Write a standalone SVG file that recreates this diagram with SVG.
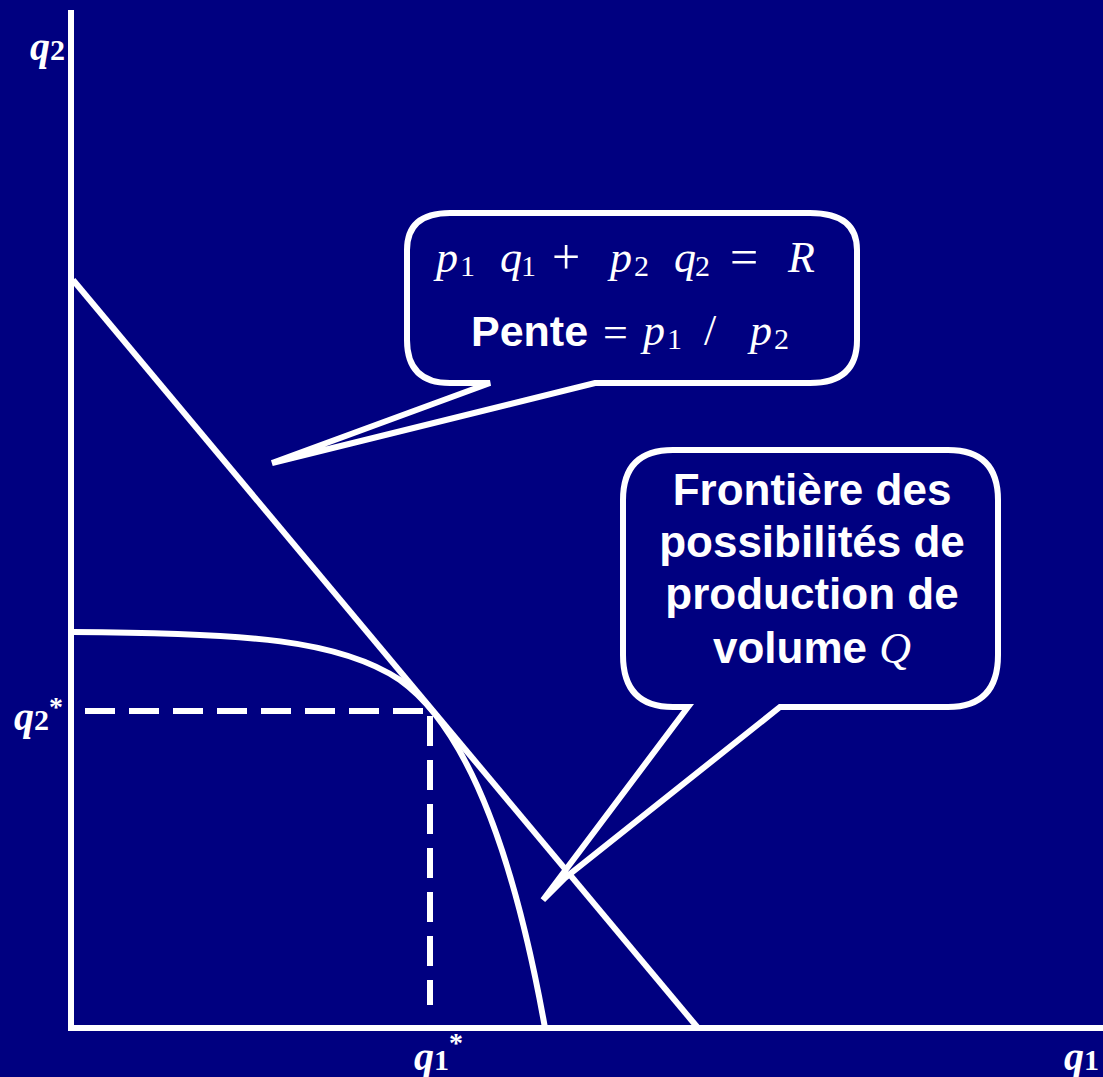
<svg xmlns="http://www.w3.org/2000/svg" width="1103" height="1077" viewBox="0 0 1103 1077">
<style>
.ln{fill:none;stroke:#fff;stroke-width:6}
.bub{fill:#000080;stroke:#fff;stroke-width:6;stroke-linejoin:miter}
.m{font-family:"Liberation Serif","DejaVu Serif",serif;font-style:italic;fill:#fff}
.r{font-family:"Liberation Serif","DejaVu Serif",serif;font-style:normal;fill:#fff}
.b{font-family:"Liberation Sans",Arial,sans-serif;font-weight:bold;fill:#fff}
</style>
<rect width="1103" height="1077" fill="#000080"/>
<g id="connectors">
<path class="ln" d="M71,10 V1028 H1103"/>
<path class="ln" d="M73,280 L698,1028"/>
<path class="ln" d="M73,632 C250,633 340,640 400,680 C470,730 515,860 545,1028"/>
<path class="ln" stroke-dasharray="30,14" d="M85,711 H430"/>
<path class="ln" stroke-dasharray="30,14" d="M430,716 V1005"/>
</g>
<g id="callout1">
<path class="bub" d="M490,383 L272,463 L595,383 H810 Q857,383 857,340 V250 Q857,213 810,213 H450 Q407,213 407,250 V340 Q407,383 450,383 Z"/>
<g font-size="44">
<text class="m" x="436" y="272">p</text><text class="r" x="460" y="276" font-size="30">1</text>
<text class="m" x="500" y="272">q</text><text class="r" x="521" y="276" font-size="30">1</text>
<text class="r" x="552" y="274" font-size="50">+</text>
<text class="m" x="610" y="272">p</text><text class="r" x="634" y="276" font-size="30">2</text>
<text class="m" x="674" y="272">q</text><text class="r" x="695" y="276" font-size="30">2</text>
<text class="r" x="730" y="274" font-size="50">=</text>
<text class="m" x="788" y="272">R</text>
<text class="b" x="471" y="346" font-size="43">Pente</text>
<text class="r" x="603" y="347" font-size="44">=</text>
<text class="m" x="643" y="345">p</text><text class="r" x="667" y="349" font-size="30">1</text>
<text class="r" x="704" y="345">/</text>
<text class="m" x="750" y="345">p</text><text class="r" x="774" y="349" font-size="30">2</text>
</g>
</g>
<g id="callout2">
<path class="bub" d="M688,707 L543,900 L565,878 L780,707 H948 Q998,707 998,655 V500 Q998,450 948,450 H673 Q623,450 623,500 V655 Q623,707 673,707 Z"/>
<g class="b" font-size="44" text-anchor="middle">
<text x="812" y="505">Frontière des</text>
<text x="812" y="557">possibilités de</text>
<text x="812" y="609">production de</text>
<text x="812" y="663">volume <tspan class="m" font-weight="normal">Q</tspan></text>
</g>
</g>
<g id="labels" font-weight="bold">
<text class="m" x="30" y="60" font-size="40">q<tspan font-style="normal" font-size="30">2</tspan></text>
<text class="m" x="14" y="730" font-size="40">q<tspan font-style="normal" font-size="30">2</tspan><tspan font-style="normal" font-size="28" dy="-14">*</tspan></text>
<text class="m" x="414" y="1070" font-size="40">q<tspan font-style="normal" font-size="30">1</tspan><tspan font-style="normal" font-size="28" dy="-18">*</tspan></text>
<text class="m" x="1064" y="1070" font-size="40">q<tspan font-style="normal" font-size="30">1</tspan></text>
</g>
</svg>
